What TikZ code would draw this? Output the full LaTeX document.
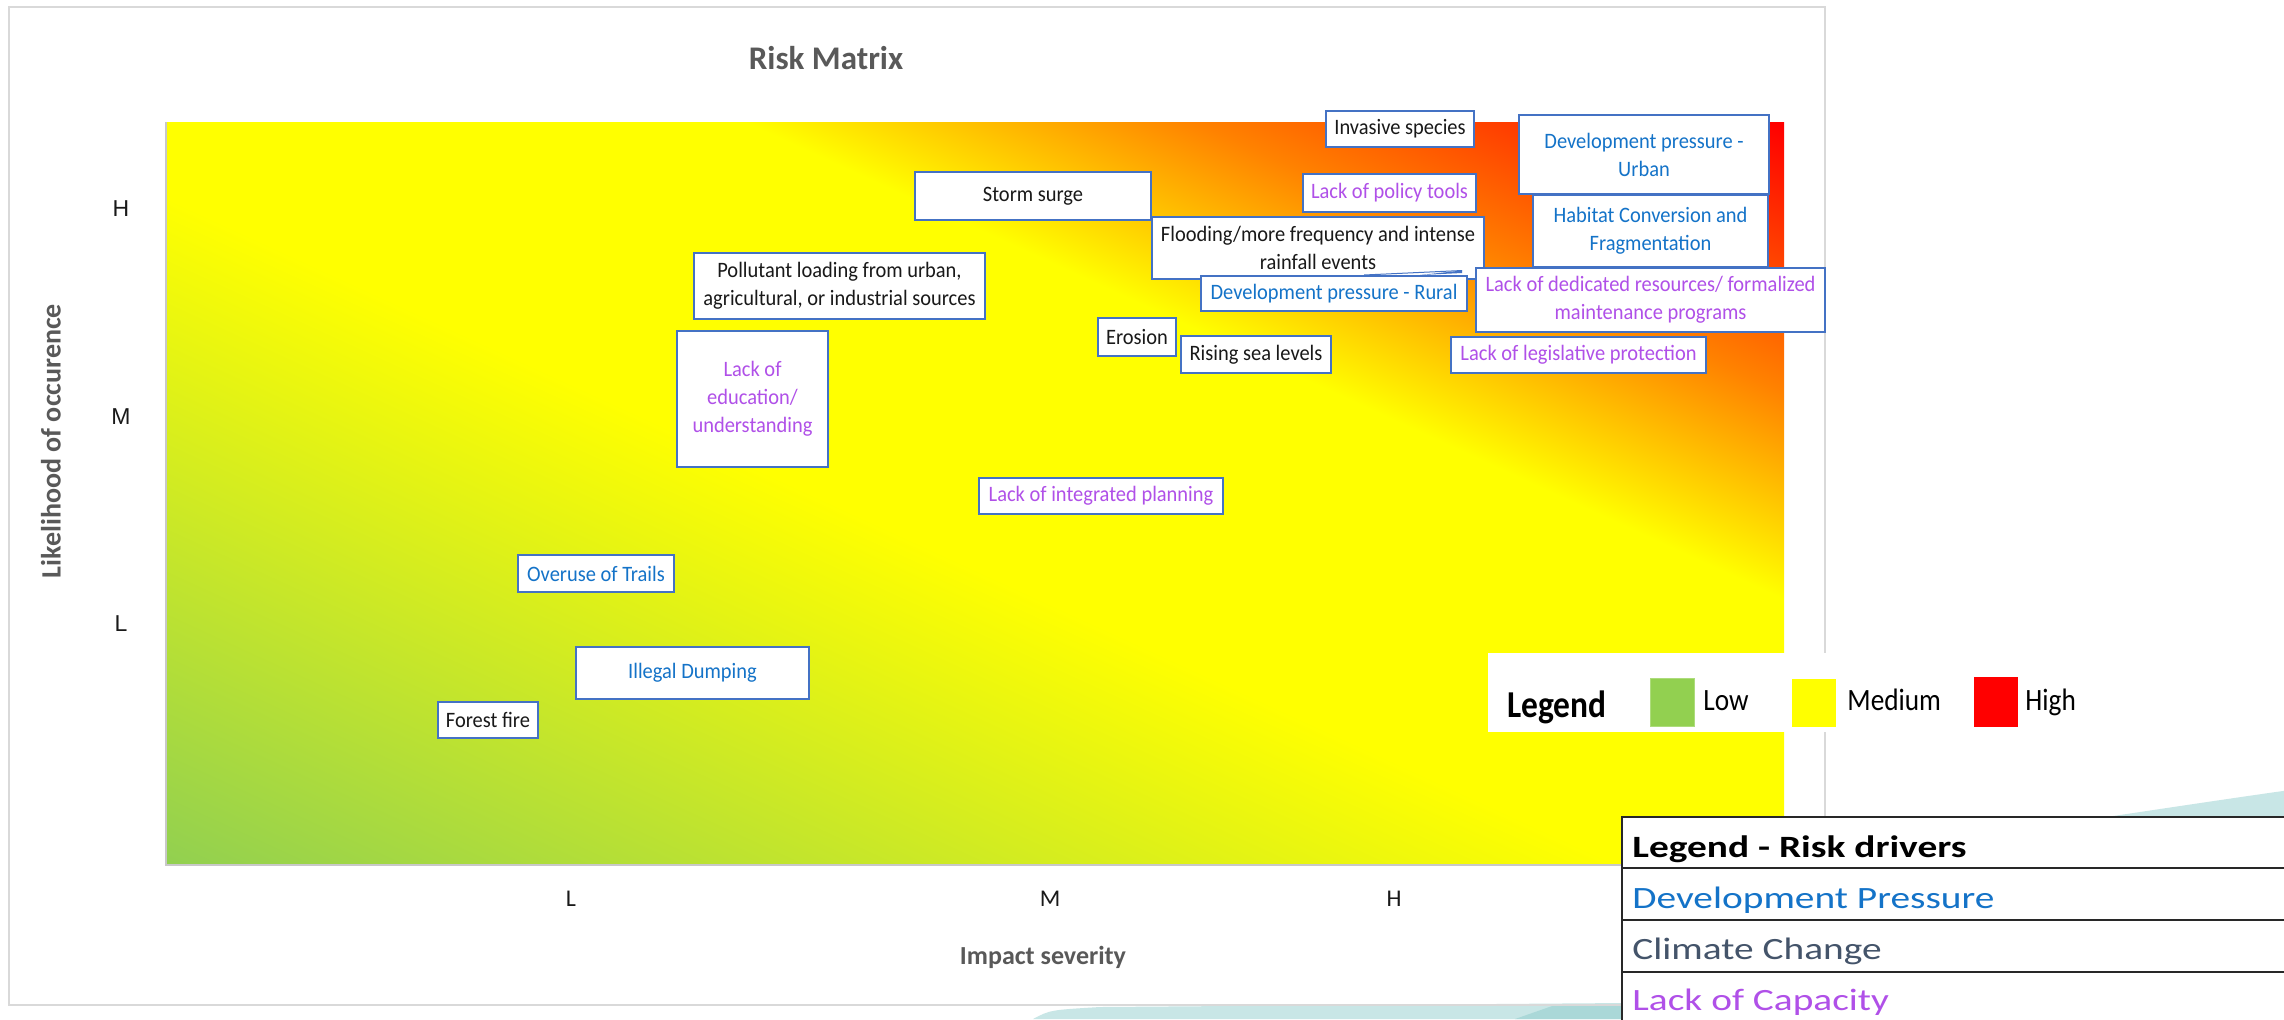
\documentclass[tikz,border=0pt]{standalone}
\usepackage{fontspec}
\setmainfont{Carlito}
\newfontfamily\boxf[FakeStretch=0.93]{Carlito}
\newfontfamily\legf[FakeStretch=0.88]{Carlito}
\newfontfamily\tabf[FakeStretch=1.27]{Carlito}
\newfontfamily\arialf{Liberation Sans}
\definecolor{boxblue}{RGB}{68,114,196}
\definecolor{txtblue}{RGB}{20,115,200}
\definecolor{txtpurple}{RGB}{176,80,232}
\definecolor{txtblack}{RGB}{25,25,25}
\definecolor{titlegray}{RGB}{89,89,89}
\definecolor{framegray}{RGB}{217,217,217}
\definecolor{axisgray}{RGB}{200,200,200}
\definecolor{ccgray}{RGB}{68,84,106}
\definecolor{lowgreen}{RGB}{146,208,80}
\definecolor{rgzero}{RGB}{146,208,80}
\definecolor{rgyel}{RGB}{255,255,0}
\definecolor{rgorg}{RGB}{255,130,0}
\definecolor{rgred}{RGB}{255,0,0}
\definecolor{swoosh}{RGB}{200,230,230}
\definecolor{swooshdark}{RGB}{170,216,216}
\pgfdeclarehorizontalshading{riskgrad}{100bp}{color(0bp)=(rgzero); color(14.64bp)=(rgzero); color(46.46bp)=(rgyel); color(62.72bp)=(rgyel); color(72.62bp)=(rgorg); color(85.36bp)=(rgred); color(100bp)=(rgred)}
\tikzset{
  rbox/.style={draw=boxblue, line width=1.1pt, fill=white, inner sep=0pt, align=center, font={\boxf\fontsize{11}{14}\selectfont}},
  cblack/.style={text=txtblack},
  cblue/.style={text=txtblue},
  cpurple/.style={text=txtpurple},
  ytick/.style={font={\arialf\fontsize{11.5}{13}\selectfont}, text=txtblack, inner sep=0pt},
  xtick/.style={font={\fontsize{12}{14}\selectfont}, text=txtblack, inner sep=0pt},
  axtitle/.style={font={\bfseries\fontsize{13.5}{16}\selectfont}, text=titlegray, inner sep=0pt},
  legtext/.style={font={\legf\fontsize{15.5}{18}\selectfont}, text=black, anchor=base west, inner sep=0pt},
  tabtext/.style={font={\tabf\fontsize{15.5}{18}\selectfont}, anchor=base west, inner sep=0pt},
  tabline/.style={draw={rgb,255:red,40;green,40;blue,40}, line width=1.2pt}
}
\begin{document}
\begin{tikzpicture}[x=0.5pt,y=-0.5pt]
\useasboundingbox (0,0) rectangle (2284,1019);
\clip (0,0) rectangle (2284,1019);
\fill[white] (0,0) rectangle (2284,1019);
% background swooshes
\fill[swoosh] (1033,1019) .. controls (1050,1010) .. (1100,1007) -- (1625,1003) -- (1625,1019) -- cycle;
\fill[swooshdark] (1515,1019) -- (1555,1005) -- (1625,1004) -- (1625,1019) -- cycle;
\fill[swoosh] (2100,818) .. controls (2180,806) and (2240,797) .. (2290,790) -- (2290,818) -- cycle;
% chart frame
\draw[framegray, line width=1.3pt] (9,7) rectangle (1825,1005);
% plot area (square shading stretched to the plot rectangle)
\begin{scope}[transform canvas={shift={(166,865)}, xscale=2.17766}]
\fill[shading=riskgrad, shading angle=45] (0,0) rectangle (743,-743);
\end{scope}
\draw[axisgray, line width=0.8pt] (166,122) -- (166,865) -- (1784,865);
% titles
\node[axtitle, font={\bfseries\fontsize{16.5}{19}\selectfont}] (title) at (826,58) {Risk Matrix};
\node[axtitle, rotate=90, font={\bfseries\fontsize{14}{16}\selectfont}] (ytitle) at (51,441) {Likelihood of occurence};
\node[axtitle, font={\bfseries\fontsize{13}{16}\selectfont}] (xtitle) at (1043,957) {Impact severity};
% ticks
\node[ytick] (yH) at (121,209) {H};
\node[ytick] (yM) at (121,417) {M};
\node[ytick] (yL) at (121,624) {L};
\node[xtick] (xL) at (571,899) {L};
\node[xtick] (xM) at (1050,899) {M};
\node[xtick] (xH) at (1394,899) {H};
% risk boxes
\node[rbox, cblack, minimum width=118pt, minimum height=24pt] (storm) at (1033,196) {Storm surge};
\node[rbox, cblack, minimum width=166pt, minimum height=31pt] (flood) at (1318,248) {Flooding/more frequency and intense\\rainfall events};
\node[rbox, cblue, minimum width=133pt, minimum height=17.5pt] (rural) at (1334,293.5) {Development pressure - Rural};
\node[rbox, cblack, minimum width=74pt, minimum height=18pt] (invasive) at (1400,129) {Invasive species};
\node[rbox, cpurple, minimum width=86.5pt, minimum height=19pt] (policy) at (1389.5,193) {Lack of policy tools};
\node[rbox, cblue, minimum width=125pt, minimum height=39.5pt] (urban) at (1644,154.5) {Development pressure -\\Urban};
\node[rbox, cblue, minimum width=117.5pt, minimum height=36pt] (habitat) at (1650.5,231) {Habitat Conversion and\\Fragmentation};
\node[rbox, cpurple, minimum width=174.5pt, minimum height=32pt] (dedicated) at (1650.5,300) {Lack of dedicated resources/ formalized\\maintenance programs};
\node[rbox, cpurple, minimum width=127.5pt, minimum height=18pt] (legis) at (1578.5,355) {Lack of legislative protection};
\node[rbox, cblack, minimum width=75pt, minimum height=18.5pt] (sea) at (1256,354.5) {Rising sea levels};
\node[rbox, cblack, minimum width=39pt, minimum height=19pt] (erosion) at (1137,337) {Erosion};
\node[rbox, cblack, minimum width=145.5pt, minimum height=33pt] (pollutant) at (839.5,286) {Pollutant loading from urban,\\agricultural, or industrial sources};
\node[rbox, cpurple, minimum width=75.5pt, minimum height=68pt] (education) at (752.5,399) {Lack of\\education/\\understanding};
\node[rbox, cpurple, minimum width=122pt, minimum height=18pt] (integrated) at (1101,496) {Lack of integrated planning};
\node[rbox, cblue, minimum width=78pt, minimum height=18.5pt] (trails) at (596,573.5) {Overuse of Trails};
\node[rbox, cblue, minimum width=116.5pt, minimum height=26pt] (dumping) at (692.5,673) {Illegal Dumping};
\node[rbox, cblack, minimum width=50pt, minimum height=18pt] (forest) at (488,720) {Forest fire};
% stray line
\coordinate (sA) at (1364,275);
\coordinate (sB) at (1462,270.5);
\draw[boxblue, line width=0.5pt] (sA) -- (sB);
\fill[boxblue] (1420,275) -- (sB) -- (1462,273) -- cycle;
% colour legend
\fill[white] (1488,653) rectangle (2100,732);
\node[legtext, font={\legf\bfseries\fontsize{19}{22}\selectfont}] (leg) at (1507,717) {Legend};
\filldraw[fill=lowgreen, draw=lowgreen!75!white, line width=0.5pt] (1650,678) rectangle (1694,726);
\node[legtext] (low) at (1703,710) {Low};
\fill[rgyel] (1792,679) rectangle (1836,727);
\node[legtext] (med) at (1847,710) {Medium};
\fill[rgred] (1974,677) rectangle (2018,727);
\node[legtext] (high) at (2025,710) {High};
% driver legend table
\fill[white] (1622,817) rectangle (2300,1030);
\draw[tabline] (2300,817) -- (1622,817) -- (1622,1030);
\draw[tabline] (1622,868) -- (2300,868);
\draw[tabline] (1622,920) -- (2300,920);
\draw[tabline] (1622,972) -- (2300,972);
\node[tabtext, text=black, font={\tabf\bfseries\fontsize{15.5}{18}\selectfont}] (th) at (1632,857) {Legend - Risk drivers};
\node[tabtext, text=txtblue] (tdev) at (1632,908) {Development Pressure};
\node[tabtext, text=ccgray] (tcc) at (1632,959) {Climate Change};
\node[tabtext, text=txtpurple] (tcap) at (1632,1010) {Lack of Capacity};
\end{tikzpicture}
\end{document}
